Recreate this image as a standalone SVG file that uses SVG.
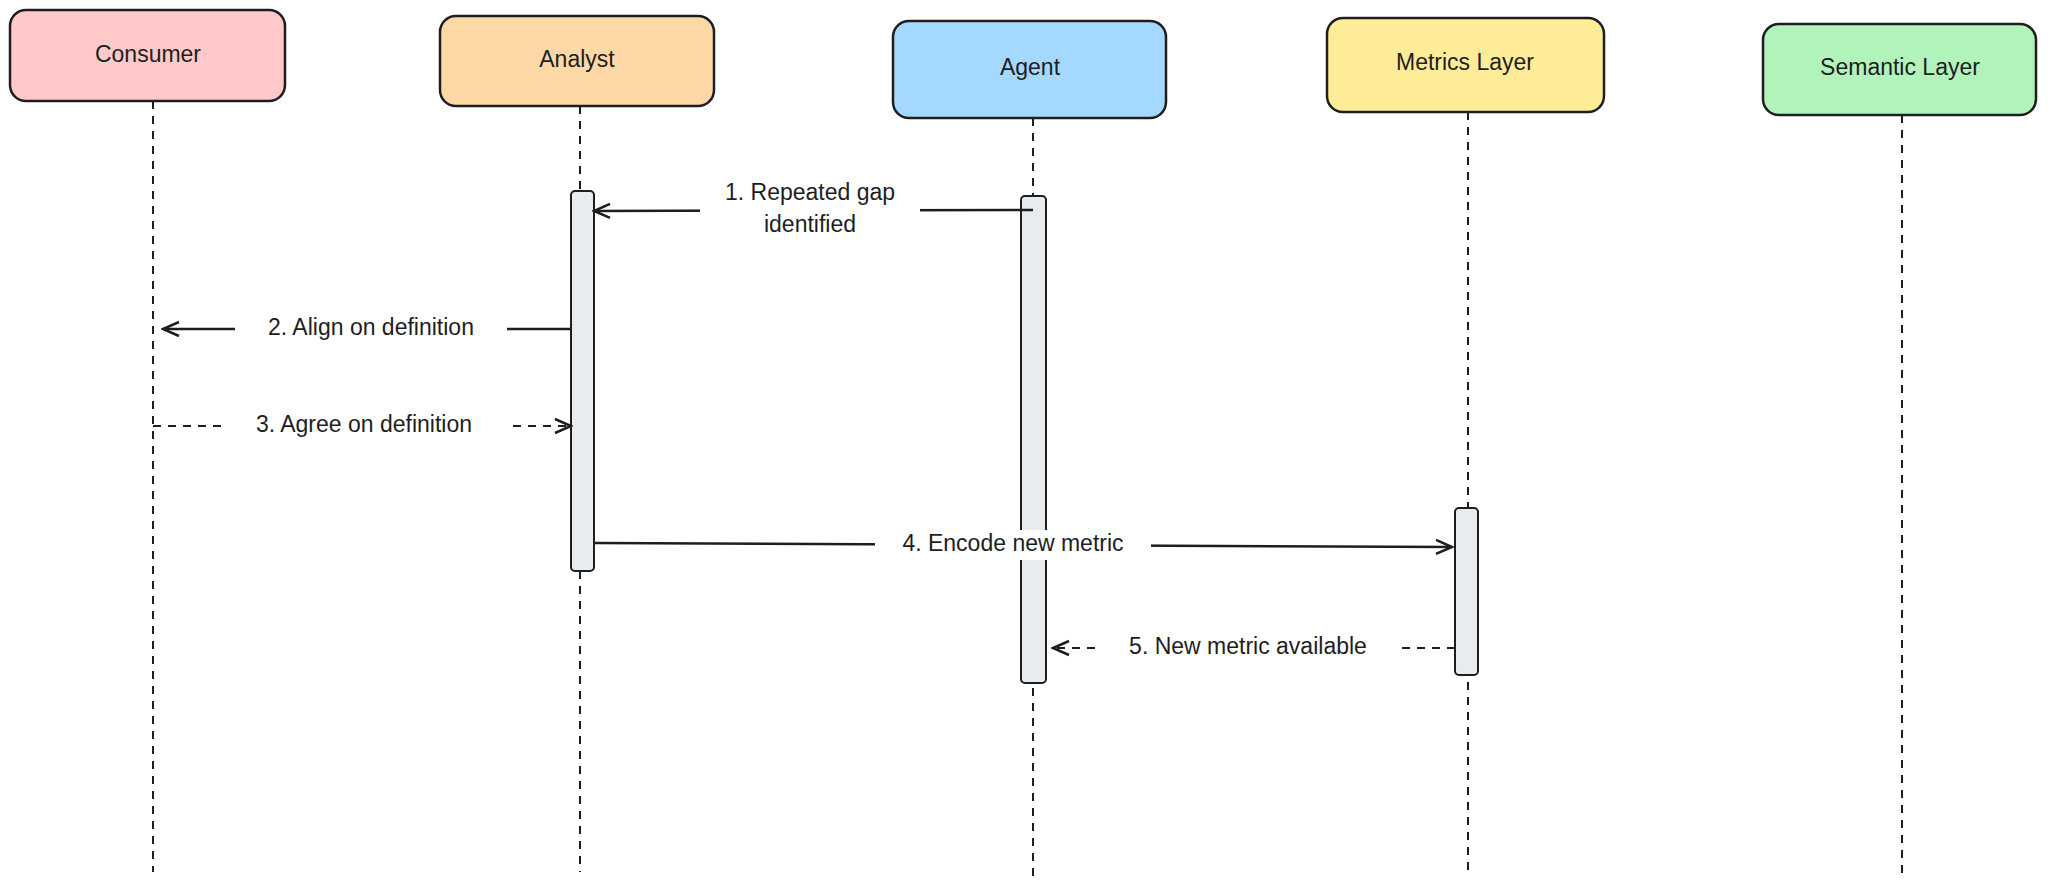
<svg xmlns="http://www.w3.org/2000/svg" width="2048" height="895" viewBox="0 0 2048 895">
<defs>
<style>
.box{stroke:#1e1e1e;stroke-width:2.5}
.lbl{font-family:"Liberation Sans",sans-serif;font-size:23px;fill:#1e1e1e;text-anchor:middle;dominant-baseline:middle}
.life{stroke:#1e1e1e;stroke-width:2;stroke-dasharray:8 7;fill:none}
.act{fill:#e9ecef;stroke:#1e1e1e;stroke-width:2}
.msg{stroke:#1e1e1e;stroke-width:2.5;fill:none}
.dash{stroke-dasharray:8 7;stroke-width:2}
.bg{fill:#fff}
</style>
<marker id="ah" viewBox="0 0 20 20" refX="18" refY="10" markerWidth="20" markerHeight="20" markerUnits="userSpaceOnUse" orient="auto">
<path d="M2 3 L18 10 L2 17" fill="none" stroke="#1e1e1e" stroke-width="2.5"/>
</marker>
</defs>
<rect width="2048" height="895" fill="#fff"/>
<g id="lifelines">
<line class="life" x1="153" y1="101" x2="153" y2="872"/>
<line class="life" x1="580" y1="106" x2="580" y2="872"/>
<line class="life" x1="1033" y1="118" x2="1033" y2="876"/>
<line class="life" x1="1468" y1="112" x2="1468" y2="872"/>
<line class="life" x1="1902" y1="115" x2="1902" y2="876"/>
</g>
<g id="consumer"><rect class="box" x="10" y="10" width="275" height="91" rx="16" fill="#ffc9c9"/><text class="lbl" x="148" y="56">Consumer</text></g>
<g id="analyst"><rect class="box" x="440" y="16" width="274" height="90" rx="16" fill="#ffd8a8"/><text class="lbl" x="577" y="61">Analyst</text></g>
<g id="agent"><rect class="box" x="893" y="21" width="273" height="97" rx="16" fill="#a5d8ff"/><text class="lbl" x="1030" y="69">Agent</text></g>
<g id="metrics"><rect class="box" x="1327" y="18" width="277" height="94" rx="16" fill="#ffec99"/><text class="lbl" x="1465" y="64">Metrics Layer</text></g>
<g id="semantic"><rect class="box" x="1763" y="24" width="273" height="91" rx="16" fill="#b2f2bb"/><text class="lbl" x="1900" y="69">Semantic Layer</text></g>
<g id="activations">
<rect class="act" x="571" y="191" width="23" height="380" rx="4"/>
<rect class="act" x="1021" y="196" width="25" height="487" rx="4"/>
<rect class="act" x="1455" y="508" width="23" height="167" rx="4"/>
</g>
<g id="connectors">
<line class="msg" x1="1033" y1="210" x2="594" y2="211" marker-end="url(#ah)"/>
<rect class="bg" x="700" y="178" width="220" height="62"/>
<text class="lbl" x="810" y="194">1. Repeated gap</text>
<text class="lbl" x="810" y="226">identified</text>
<line class="msg" x1="571" y1="329" x2="163" y2="329" marker-end="url(#ah)"/>
<rect class="bg" x="235" y="314" width="272" height="30"/>
<text class="lbl" x="371" y="329">2. Align on definition</text>
<line class="msg dash" x1="153" y1="426" x2="571" y2="426" marker-end="url(#ah)"/>
<rect class="bg" x="222" y="411" width="285" height="30"/>
<text class="lbl" x="364" y="426">3. Agree on definition</text>
<line class="msg" x1="594" y1="543" x2="1452" y2="547" marker-end="url(#ah)"/>
<rect class="bg" x="875" y="530" width="276" height="30"/>
<text class="lbl" x="1013" y="545">4. Encode new metric</text>
<line class="msg dash" x1="1455" y1="648" x2="1053" y2="648" marker-end="url(#ah)"/>
<rect class="bg" x="1098" y="633" width="300" height="30"/>
<text class="lbl" x="1248" y="648">5. New metric available</text>
</g>
</svg>
